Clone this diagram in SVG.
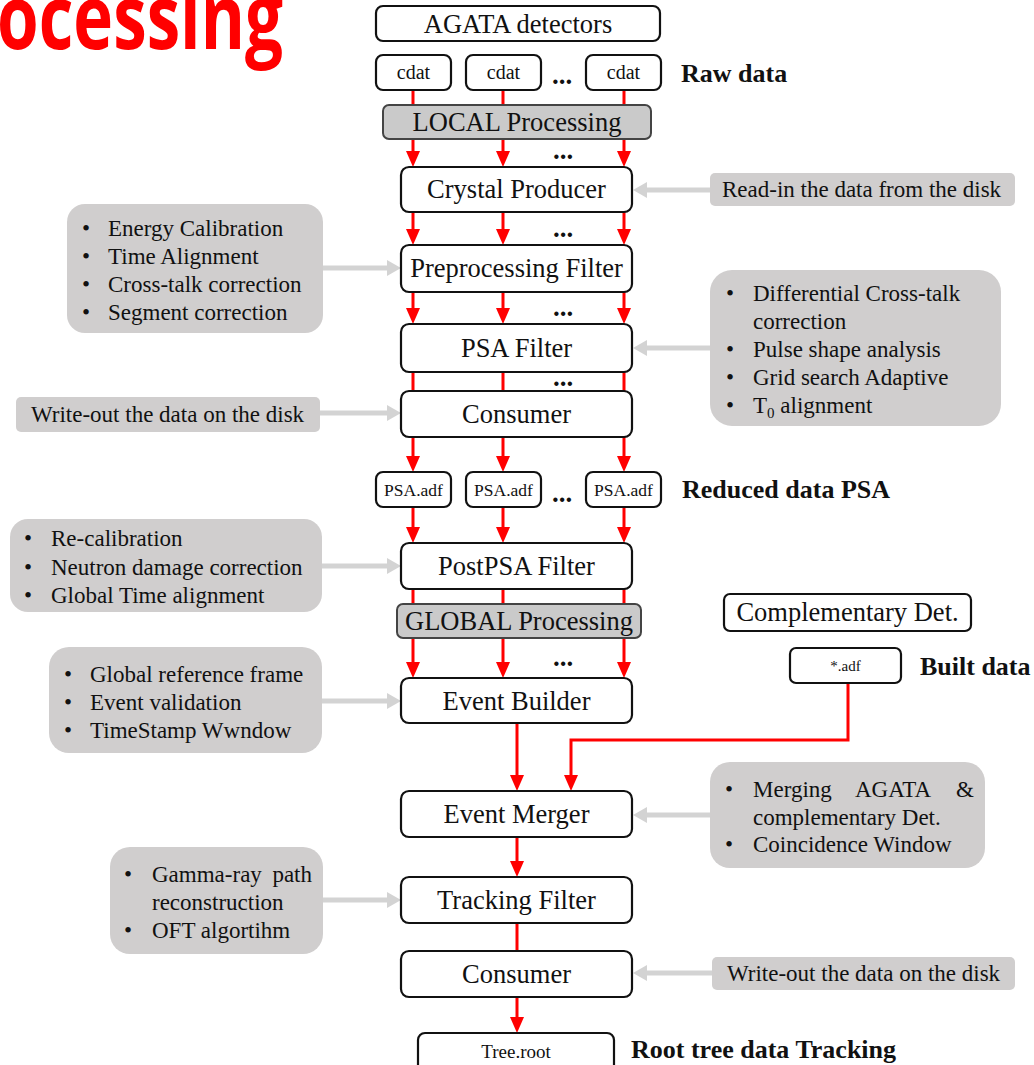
<svg xmlns="http://www.w3.org/2000/svg" width="1034" height="1065" viewBox="0 0 1034 1065">
<style>
.box{fill:#fff;stroke:#111;stroke-width:2.2}
.proc{fill:#cacaca;stroke:#444;stroke-width:2}
.side{fill:#d0cece;stroke:none}
.t{font-family:"Liberation Serif","Times New Roman",serif;fill:#111}
.m{font-size:26.5px;text-anchor:middle}
.s{font-size:23px}
.b{font-size:26px;font-weight:bold}
.dots{font-family:"Liberation Serif",serif;font-size:27px;font-weight:bold;text-anchor:middle;fill:#111}
.red{stroke:#ff0000;stroke-width:3;fill:none}
.redh{stroke:#ff0000;stroke-width:3;fill:none;marker-end:url(#ra)}
.gray{stroke:#d3d3d3;stroke-width:5;fill:none;marker-end:url(#ga)}
</style>
<defs>
<marker id="ra" viewBox="0 0 16 14" refX="0" refY="7" markerWidth="16" markerHeight="14" markerUnits="userSpaceOnUse" orient="auto"><path d="M0,0 L16,7 L0,14 z" fill="#ff0000"/></marker>
<marker id="ga" viewBox="0 0 14 16" refX="0" refY="8" markerWidth="14" markerHeight="16" markerUnits="userSpaceOnUse" orient="auto"><path d="M0,0 L14,8 L0,16 z" fill="#d3d3d3"/></marker>
</defs>
<rect width="1034" height="1065" fill="#fff"/>
<text x="-3" y="49" font-family="'Open Sans','Noto Sans',sans-serif" font-weight="700" font-size="90" fill="#ff0000" textLength="286" lengthAdjust="spacingAndGlyphs">ocessing</text>

<g id="connectors">
<path class="red" d="M413,90 V105 M503,90 V105 M624,90 V105"/>
<path class="redh" d="M413,139 V151"/><path class="redh" d="M503,139 V151"/><path class="redh" d="M624,139 V151"/>
<path class="redh" d="M413,212 V229"/><path class="redh" d="M503,212 V229"/><path class="redh" d="M624,212 V229"/>
<path class="redh" d="M413,292 V308"/><path class="redh" d="M503,292 V308"/><path class="redh" d="M624,292 V308"/>
<path class="red" d="M413,372 V391 M503,372 V391 M624,372 V391"/>
<path class="redh" d="M413,437 V456"/><path class="redh" d="M503,437 V456"/><path class="redh" d="M624,437 V456"/>
<path class="redh" d="M413,507 V527"/><path class="redh" d="M503,507 V527"/><path class="redh" d="M624,507 V527"/>
<path class="red" d="M413,589 V604 M503,589 V604 M624,589 V604"/>
<path class="redh" d="M413,638 V662"/><path class="redh" d="M503,638 V662"/><path class="redh" d="M624,638 V662"/>
<path class="redh" d="M517,723 V775"/>
<path class="redh" d="M848,683 V740 H571 V775"/>
<path class="redh" d="M517,837 V861"/>
<path class="red" d="M517,923 V951"/>
<path class="redh" d="M517,997 V1017"/>
<path class="gray" d="M710,190 H647"/>
<path class="gray" d="M323,268 H387"/>
<path class="gray" d="M710,348 H647"/>
<path class="gray" d="M320,413 H387"/>
<path class="gray" d="M322,566 H387"/>
<path class="gray" d="M322,701 H387"/>
<path class="gray" d="M710,815 H647"/>
<path class="gray" d="M323,900 H387"/>
<path class="gray" d="M712,973 H647"/>
</g>

<g id="dots">
<text class="dots" x="562" y="84">...</text>
<text class="dots" x="563" y="159">...</text>
<text class="dots" x="563" y="237">...</text>
<text class="dots" x="563" y="316">...</text>
<text class="dots" x="563" y="386">...</text>
<text class="dots" x="562" y="502">...</text>
<text class="dots" x="563" y="666">...</text>
</g>

<g id="agata"><rect class="box" x="376" y="6" width="284" height="35" rx="7"/><text class="t m" x="518" y="33">AGATA detectors</text></g>
<g id="cdat1"><rect class="box" x="376" y="55" width="75" height="35" rx="7"/><text class="t" x="413.5" y="79" font-size="20" text-anchor="middle">cdat</text></g>
<g id="cdat2"><rect class="box" x="466" y="55" width="75" height="35" rx="7"/><text class="t" x="503.5" y="79" font-size="20" text-anchor="middle">cdat</text></g>
<g id="cdat3"><rect class="box" x="586" y="55" width="75" height="35" rx="7"/><text class="t" x="623.5" y="79" font-size="20" text-anchor="middle">cdat</text></g>
<g id="rawdata"><text class="t b" x="681" y="82">Raw data</text></g>
<g id="local"><rect class="proc" x="383" y="105" width="268" height="34" rx="6"/><text class="t m" x="517" y="131">LOCAL Processing</text></g>
<g id="crystal"><rect class="box" x="401" y="167" width="231" height="45" rx="8"/><text class="t m" x="516.5" y="198">Crystal Producer</text></g>
<g id="preproc"><rect class="box" x="401" y="245" width="231" height="47" rx="8"/><text class="t m" x="516.5" y="277">Preprocessing Filter</text></g>
<g id="psa"><rect class="box" x="401" y="324" width="231" height="48" rx="8"/><text class="t m" x="516.5" y="357">PSA Filter</text></g>
<g id="consumer1"><rect class="box" x="401" y="391" width="231" height="46" rx="8"/><text class="t m" x="516.5" y="423">Consumer</text></g>
<g id="psaadf1"><rect class="box" x="376" y="472" width="75" height="35" rx="7"/><text class="t" x="413.5" y="496" font-size="17.5" text-anchor="middle">PSA.adf</text></g>
<g id="psaadf2"><rect class="box" x="466" y="472" width="75" height="35" rx="7"/><text class="t" x="503.5" y="496" font-size="17.5" text-anchor="middle">PSA.adf</text></g>
<g id="psaadf3"><rect class="box" x="586" y="472" width="75" height="35" rx="7"/><text class="t" x="623.5" y="496" font-size="17.5" text-anchor="middle">PSA.adf</text></g>
<g id="reduced"><text class="t b" x="682" y="498">Reduced data PSA</text></g>
<g id="postpsa"><rect class="box" x="401" y="543" width="231" height="46" rx="8"/><text class="t m" x="516.5" y="575">PostPSA Filter</text></g>
<g id="global"><rect class="proc" x="397" y="604" width="244" height="34" rx="6"/><text class="t m" x="519" y="630">GLOBAL Processing</text></g>
<g id="compdet"><rect class="box" x="724" y="594" width="247" height="37" rx="6"/><text class="t m" x="847.5" y="621">Complementary Det.</text></g>
<g id="adf"><rect class="box" x="790" y="648" width="111" height="35" rx="6"/><text class="t" x="845.5" y="671" font-size="15" text-anchor="middle">*.adf</text></g>
<g id="builtdata"><text class="t b" x="920" y="675">Built data</text></g>
<g id="builder"><rect class="box" x="401" y="678" width="231" height="45" rx="8"/><text class="t m" x="516.5" y="710">Event Builder</text></g>
<g id="merger"><rect class="box" x="401" y="791" width="231" height="46" rx="8"/><text class="t m" x="516.5" y="823">Event Merger</text></g>
<g id="tracking"><rect class="box" x="401" y="877" width="231" height="46" rx="8"/><text class="t m" x="516.5" y="909">Tracking Filter</text></g>
<g id="consumer2"><rect class="box" x="401" y="951" width="231" height="46" rx="8"/><text class="t m" x="516.5" y="983">Consumer</text></g>
<g id="tree"><rect class="box" x="418" y="1033" width="196" height="40" rx="7"/><text class="t" x="516" y="1058" font-size="19" text-anchor="middle">Tree.root</text></g>
<g id="roottree"><text class="t b" x="631" y="1058">Root tree data Tracking</text></g>

<g id="readin"><rect class="side" x="710" y="173" width="305" height="33" rx="5"/><text class="t s" x="722" y="197">Read-in the data from the disk</text></g>
<g id="prepnote"><rect class="side" x="67" y="204" width="256" height="129" rx="18"/>
<text class="t s" x="82" y="236">•</text><text class="t s" x="108" y="236">Energy Calibration</text>
<text class="t s" x="82" y="264">•</text><text class="t s" x="108" y="264">Time Alignment</text>
<text class="t s" x="82" y="292">•</text><text class="t s" x="108" y="292">Cross-talk correction</text>
<text class="t s" x="82" y="320">•</text><text class="t s" x="108" y="320">Segment correction</text></g>
<g id="psanote"><rect class="side" x="710" y="270" width="291" height="156" rx="22"/>
<text class="t s" x="726" y="301">•</text><text class="t s" x="753" y="301">Differential Cross-talk</text>
<text class="t s" x="753" y="329">correction</text>
<text class="t s" x="726" y="357">•</text><text class="t s" x="753" y="357">Pulse shape analysis</text>
<text class="t s" x="726" y="385">•</text><text class="t s" x="753" y="385">Grid search Adaptive</text>
<text class="t s" x="726" y="413">•</text><text class="t s" x="753" y="413">T<tspan font-size="15" dy="5">0</tspan><tspan dy="-5"> alignment</tspan></text></g>
<g id="writeout1"><rect class="side" x="16" y="397" width="304" height="35" rx="5"/><text class="t s" x="31" y="422">Write-out the data on the disk</text></g>
<g id="postnote"><rect class="side" x="10" y="519" width="312" height="93" rx="18"/>
<text class="t s" x="24" y="546">•</text><text class="t s" x="51" y="546">Re-calibration</text>
<text class="t s" x="24" y="575">•</text><text class="t s" x="51" y="575">Neutron damage correction</text>
<text class="t s" x="24" y="603">•</text><text class="t s" x="51" y="603">Global Time alignment</text></g>
<g id="buildnote"><rect class="side" x="49" y="647" width="273" height="106" rx="20"/>
<text class="t s" x="64" y="682">•</text><text class="t s" x="90" y="682">Global reference frame</text>
<text class="t s" x="64" y="710">•</text><text class="t s" x="90" y="710">Event validation</text>
<text class="t s" x="64" y="738">•</text><text class="t s" x="90" y="738">TimeStamp Wwndow</text></g>
<g id="mergenote"><rect class="side" x="710" y="762" width="275" height="106" rx="20"/>
<text class="t s" x="725" y="797">•</text><text class="t s" x="753" y="797">Merging</text><text class="t s" x="855" y="797">AGATA</text><text class="t s" x="956" y="797">&amp;</text>
<text class="t s" x="753" y="825">complementary Det.</text>
<text class="t s" x="725" y="852">•</text><text class="t s" x="753" y="852">Coincidence Window</text></g>
<g id="tracknote"><rect class="side" x="110" y="847" width="213" height="107" rx="20"/>
<text class="t s" x="124" y="882">•</text><text class="t s" x="152" y="882">Gamma-ray</text><text class="t s" x="312" y="882" text-anchor="end">path</text>
<text class="t s" x="152" y="910">reconstruction</text>
<text class="t s" x="124" y="938">•</text><text class="t s" x="152" y="938">OFT algortihm</text></g>
<g id="writeout2"><rect class="side" x="712" y="957" width="303" height="33" rx="5"/><text class="t s" x="727" y="981">Write-out the data on the disk</text></g>
</svg>
